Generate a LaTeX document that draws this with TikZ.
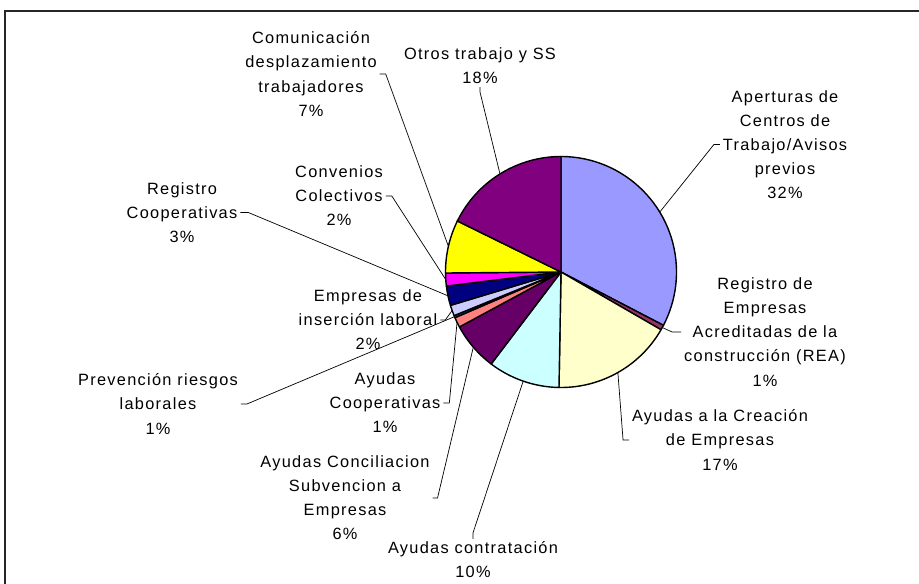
\documentclass[tikz,border=0pt]{standalone}
\usepackage{fontspec}
\setmainfont{Liberation Sans}[LetterSpace=8]
\definecolor{cApe}{HTML}{9999FF}
\definecolor{cRea}{HTML}{993366}
\definecolor{cCre}{HTML}{FFFFCC}
\definecolor{cCon}{HTML}{CCFFFF}
\definecolor{cConc}{HTML}{660066}
\definecolor{cACoop}{HTML}{FF8080}
\definecolor{cPrev}{HTML}{0066CC}
\definecolor{cIns}{HTML}{CCCCFF}
\definecolor{cRCoop}{HTML}{000080}
\definecolor{cConv}{HTML}{FF00FF}
\definecolor{cCom}{HTML}{FFFF00}
\definecolor{cOtros}{HTML}{800080}
\begin{document}
\begin{tikzpicture}[x=0.02cm,y=-0.02cm,
	lbl/.style={align=center,inner sep=1.5pt,font=\fontsize{9.3}{13.7}\selectfont},
	leader/.style={line width=0.4pt}]
	\useasboundingbox (0,0) rectangle (919,584);
	\draw [line width=0.9pt,black!85] (5,584) -- (5,11) -- (919,11);
	\coordinate (c) at (561,272);
	% slices, clockwise from the top
	\foreach \a/\b/\col in {-90/27.5/cApe, 27.5/30/cRea, 30/91/cCre, 91/127.2/cCon, 127.2/151.6/cConc, 151.6/156.7/cACoop, 156.7/157.8/cPrev, 157.8/163.2/cIns, 163.2/173/cRCoop, 173/179.5/cConv, 179.5/206.2/cCom, 206.2/270/cOtros} {
		\filldraw [fill=\col,draw=black,line width=0.8pt,line join=round] (c) -- ++(\a:115.5) arc [start angle=\a,end angle=\b,radius=115.5] -- cycle;
	}
	\foreach \n/\t in {ape/-31.25, rea/28.75, cre/60.5, con/109.1, conc/139.4, acoop/154.15, prev/157.25, ins/160.5, rcoop/168.1, conv/176.25, com/192.85, otros/238.1}
		\path (c) ++(\t:115.5) coordinate (p-\n);
	% labels
	\node [lbl] (ape) at (785,144.5) {Aperturas de\\Centros de\\Trabajo/Avisos\\previos\\32\%};
	\node [lbl] (rea) at (765,332) {Registro de\\Empresas\\Acreditadas de la\\construcción (REA)\\1\%};
	\node [lbl] (cre) at (720,440) {Ayudas a la Creación\\de Empresas\\17\%};
	\node [lbl] (con) at (473,560) {Ayudas contratación\\10\%};
	\node [lbl] (conc) at (345,498) {Ayudas Conciliacion\\Subvencion a\\Empresas\\6\%};
	\node [lbl] (acoop) at (385,403) {Ayudas\\Cooperativas\\1\%};
	\node [lbl] (prev) at (158,404) {Prevención riesgos\\laborales\\1\%};
	\node [lbl] (ins) at (368,320) {Empresas de\\inserción laboral\\2\%};
	\node [lbl] (rcoop) at (182,212.5) {Registro\\Cooperativas\\3\%};
	\node [lbl] (conv) at (339,196) {Convenios\\Colectivos\\2\%};
	\node [lbl] (com) at (311,74) {Comunicación\\desplazamiento\\trabajadores\\7\%};
	\node [lbl] (otros) at (480,66) {Otros trabajo y SS\\18\%};
	% leader lines
	\draw [leader] (ape.west) -- ++(-6,0) -- (p-ape);
	\draw [leader] (rea.west) -- ++(-9,0) -- (p-rea);
	\draw [leader] (cre.west) -- ++(-6,0) -- (p-cre);
	\draw [leader] (con.north) -- ++(0,-6) -- (p-con);
	\draw [leader] (conc.east) -- ++(5,0) -- (p-conc);
	\draw [leader] (acoop.east) -- ++(6,0) -- (p-acoop);
	\draw [leader] (prev.east) -- ++(6,0) -- (p-prev);
	\draw [leader] (ins.east) -- ++(5,0) -- (p-ins);
	\draw [leader] (rcoop.east) -- ++(8,0) -- (p-rcoop);
	\draw [leader] (conv.east) -- ++(6,0) -- (p-conv);
	\draw [leader] (com.east) -- ++(6,0) -- (p-com);
	\draw [leader] (otros.south) -- ++(0,5) -- (p-otros);
\end{tikzpicture}
\end{document}
